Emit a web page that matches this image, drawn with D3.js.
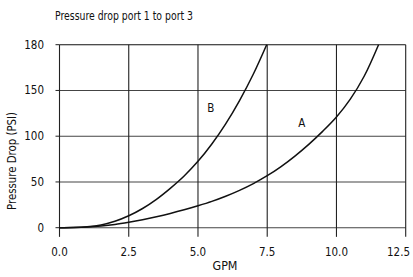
<!DOCTYPE html>
<html><head><meta charset="utf-8">
<script src="https://cdn.jsdelivr.net/npm/d3@7/dist/d3.min.js"></script>
<style>
body{margin:0;background:#fff;}
svg text{font-family:"DejaVu Sans Condensed","Liberation Sans Narrow",sans-serif;fill:#111;}
</style></head>
<body><svg id="c" width="413" height="277"></svg>
<script>
const title = "Pressure drop port 1 to port 3";
const xTitle = "GPM";
const yTitle = "Pressure Drop (PSI)";
const xTicks = [0, 2.5, 5, 7.5, 10, 12.5];
const xTickLabels = ["0.0", "2.5", "5.0", "7.5", "10.0", "12.5"];
const yTicks = [0, 50, 100, 150, 200];
const yTickLabels = ["0", "50", "100", "150", "180"];
const gpmA = [0, 0.5, 1, 1.5, 2, 2.5, 3, 3.5, 4, 4.5, 5, 5.5, 6, 6.5, 7, 7.5, 8, 8.5, 9, 9.5, 10, 10.5, 11, 11.52];
const psiA = [0, 0.2, 0.8, 1.9, 3.6, 6, 8.8, 12, 15.6, 19.6, 24, 28.8, 34.4, 40.8, 48.2, 56.8, 66.8, 78.3, 91.1, 105.3, 121, 140.5, 165.5, 200];
const gpmB = [0, 0.5, 1, 1.5, 2, 2.5, 3, 3.5, 4, 4.5, 5, 5.5, 6, 6.5, 7, 7.48];
const psiB = [0, 0.2, 1, 3, 7, 13, 21, 31, 43, 56.5, 72.5, 91.5, 113.5, 139, 168, 200];
const seriesLabels = [{name:"A", x:8.75, y:115}, {name:"B", x:5.46, y:131}];

const svg = d3.select("#c");
const x = d3.scaleLinear().domain([0, 12.5]).range([59.5, 405.7]);
const y = d3.scaleLinear().domain([0, 200]).range([227.7, 44.7]);
const yBottom = -10;

// horizontal gridlines
svg.append("g").selectAll("line").data(yTicks.filter(v => v < 200)).join("line")
  .attr("x1", x(0)).attr("x2", x(12.5)).attr("y1", d => y(d)).attr("y2", d => y(d))
  .attr("stroke", "#444").attr("stroke-width", 1.1);
// top border
svg.append("line").attr("x1", x(0)).attr("x2", x(12.5)).attr("y1", y(200)).attr("y2", y(200))
  .attr("stroke", "#111").attr("stroke-width", 1.1);
// vertical gridlines
svg.append("g").selectAll("line").data(xTicks).join("line")
  .attr("x1", d => x(d)).attr("x2", d => x(d)).attr("y1", y(200)).attr("y2", y(yBottom))
  .attr("stroke", "#222").attr("stroke-width", 1.1);

// y ticks
const gy = svg.append("g");
gy.selectAll("line").data(yTicks).join("line")
  .attr("x1", x(0) - 4).attr("x2", x(0)).attr("y1", d => y(d)).attr("y2", d => y(d))
  .attr("stroke", "#222").attr("stroke-width", 1);
gy.selectAll("text").data(yTicks).join("text")
  .attr("x", 44).attr("y", d => y(d)).attr("dy", "0.35em").attr("text-anchor", "end")
  .attr("font-size", 11.5).text((d, i) => yTickLabels[i]);

// x tick labels
const gx = svg.append("g");
gx.selectAll("text").data(xTicks).join("text")
  .attr("x", d => x(d)).attr("y", 256).attr("text-anchor", "middle")
  .attr("font-size", 11.5).text((d, i) => xTickLabels[i])
  .each(function(){
    const b = this.getBBox();
    if (b.x + b.width > 410) d3.select(this).attr("x", +d3.select(this).attr("x") - (b.x + b.width - 410));
  });

// curves
const line = d3.line().x(d => x(d[0])).y(d => y(d[1])).curve(d3.curveCatmullRom.alpha(0.5));
svg.append("path").datum(gpmA.map((g, i) => [g, psiA[i]])).attr("d", line)
  .attr("fill", "none").attr("stroke", "#111").attr("stroke-width", 1.5);
svg.append("path").datum(gpmB.map((g, i) => [g, psiB[i]])).attr("d", line)
  .attr("fill", "none").attr("stroke", "#111").attr("stroke-width", 1.5);

// series labels
svg.append("g").selectAll("text").data(seriesLabels).join("text")
  .attr("x", d => x(d.x)).attr("y", d => y(d.y)).attr("dy", "0.35em").attr("text-anchor", "middle")
  .attr("font-size", 11.5).text(d => d.name);

// title & axis titles
svg.append("text").attr("x", 55).attr("y", 20).attr("font-size", 11.5)
  .attr("textLength", 138).attr("lengthAdjust", "spacingAndGlyphs").text(title);
svg.append("text").attr("x", 225).attr("y", 270).attr("text-anchor", "middle").attr("font-size", 11.5)
  .attr("textLength", 25).attr("lengthAdjust", "spacingAndGlyphs").text(xTitle);
svg.append("text").attr("transform", "translate(16,161) rotate(-90)").attr("text-anchor", "middle")
  .attr("font-size", 11.5).attr("textLength", 98).attr("lengthAdjust", "spacingAndGlyphs").text(yTitle);
</script></body></html>
